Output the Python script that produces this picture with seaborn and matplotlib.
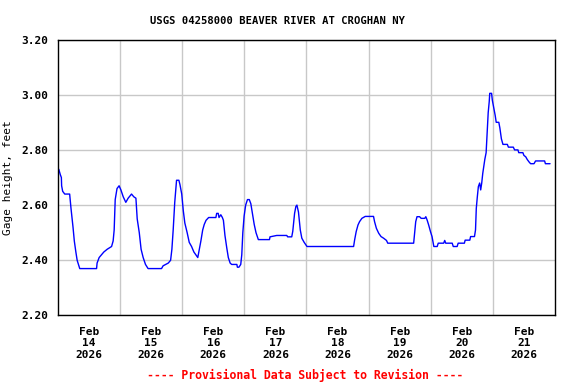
import pandas as pd
import seaborn as sns
import matplotlib.pyplot as plt
import matplotlib.dates as mdates

# hours after 2026-02-14 00:00 and gage height (ft)
hours = [0.3, 0.9, 1.3, 1.4, 1.8, 2.6, 4.5, 5.0, 5.8, 6.3, 6.9, 7.4, 8.4, 14.9,
         15.1, 15.9, 16.8, 17.7, 19.0, 20.7, 21.3, 21.7, 22.1, 22.8, 23.6, 24.3,
         25.2, 26.2, 27.1, 28.4, 29.3, 30.1, 30.6, 31.4, 32.1, 32.9, 33.8, 34.8,
         40.0, 40.6, 42.6, 43.5, 44.0, 44.5, 45.1, 45.8, 46.7, 47.1, 47.8, 48.4,
         49.0, 49.9, 50.7, 51.6, 52.5, 53.6, 54.0, 54.6, 55.2, 55.9, 56.5, 57.2,
         58.2, 61.0, 61.3, 61.9, 62.2, 62.9, 63.5, 63.9, 64.5, 65.2, 65.8, 66.5,
         67.1, 69.1, 69.3, 69.9, 70.6, 71.0, 71.4, 71.9, 72.5, 73.2, 73.9, 74.5,
         75.1, 75.8, 76.5, 77.4, 81.7, 81.9, 84.5, 88.4, 88.7, 90.3, 90.7, 91.4,
         91.9, 92.3, 92.9, 93.6, 94.2, 95.1, 96.2, 97.4, 114.2, 114.6, 115.2,
         115.9, 116.5, 117.4, 118.7, 121.9, 122.3, 123.0, 123.9, 124.8, 125.8,
         126.9, 127.4, 137.4, 137.7, 138.2, 138.7, 139.7, 140.3, 141.7, 142.1,
         142.6, 143.2, 143.9, 144.5, 145.2, 146.5, 146.9, 149.0, 149.4, 149.8,
         152.3, 152.7, 154.2, 154.6, 157.0, 157.3, 159.1, 159.4, 160.9, 161.3,
         161.6, 162.0, 162.4, 162.9, 163.3, 163.7, 164.1, 164.5, 164.9, 165.4,
         165.8, 166.2, 166.6, 166.8, 167.5, 167.8, 168.4, 168.9, 169.3, 170.3,
         170.7, 171.3, 171.9, 173.6, 174.0, 175.9, 176.4, 177.7, 178.0, 179.6,
         180.0, 180.7, 181.3, 182.1, 182.6, 183.9, 184.5, 188.0, 188.3, 190.1]
gage = [2.73, 2.71, 2.70, 2.67, 2.65, 2.64, 2.64, 2.59, 2.52, 2.47, 2.43, 2.40,
        2.37, 2.37, 2.39, 2.41, 2.42, 2.43, 2.44, 2.45, 2.47, 2.51, 2.62, 2.66,
        2.67, 2.655, 2.63, 2.61, 2.625, 2.64, 2.63, 2.625, 2.55, 2.50, 2.44,
        2.41, 2.385, 2.37, 2.37, 2.38, 2.39, 2.40, 2.44, 2.51, 2.61, 2.69, 2.69,
        2.675, 2.64, 2.58, 2.535, 2.50, 2.465, 2.45, 2.43, 2.415, 2.41, 2.44,
        2.47, 2.51, 2.53, 2.545, 2.555, 2.555, 2.57, 2.57, 2.555, 2.565, 2.555,
        2.545, 2.49, 2.445, 2.41, 2.39, 2.385, 2.385, 2.375, 2.375, 2.385, 2.42,
        2.50, 2.56, 2.60, 2.62, 2.62, 2.605, 2.57, 2.53, 2.50, 2.475, 2.475,
        2.485, 2.49, 2.49, 2.485, 2.485, 2.505, 2.57, 2.595, 2.60, 2.575, 2.51,
        2.48, 2.465, 2.45, 2.45, 2.45, 2.474, 2.504, 2.528, 2.54, 2.552, 2.559,
        2.559, 2.54, 2.516, 2.498, 2.486, 2.48, 2.472, 2.462, 2.462, 2.49, 2.54,
        2.558, 2.558, 2.552, 2.552, 2.558, 2.546, 2.528, 2.504, 2.486, 2.45,
        2.45, 2.462, 2.462, 2.472, 2.462, 2.462, 2.45, 2.45, 2.462, 2.462, 2.473,
        2.473, 2.486, 2.486, 2.51, 2.588, 2.63, 2.667, 2.68, 2.655, 2.68, 2.715,
        2.74, 2.766, 2.79, 2.86, 2.935, 2.975, 3.005, 3.005, 2.98, 2.95, 2.925,
        2.90, 2.90, 2.88, 2.84, 2.82, 2.82, 2.81, 2.81, 2.80, 2.80, 2.79, 2.79,
        2.78, 2.775, 2.765, 2.755, 2.75, 2.75, 2.76, 2.76, 2.75, 2.75]

start = pd.Timestamp("2026-02-14")
times = start + pd.to_timedelta(hours, unit="h")
df = pd.DataFrame({"time": times, "gage": gage})

sns.set_style("white")
plt.rcParams['font.family'] = ['DejaVu Sans Mono', 'DejaVu Sans']
plt.rcParams['font.weight'] = 'bold'
plt.rcParams['font.size'] = 8
plt.rcParams['text.color'] = 'black'
plt.rcParams['axes.labelcolor'] = 'black'
plt.rcParams['xtick.color'] = 'black'
plt.rcParams['ytick.color'] = 'black'

fig = plt.figure(figsize=(5.76, 3.84), dpi=100)
ax = fig.add_axes([0.1007, 0.1784, 0.8628, 0.7187])

sns.lineplot(data=df, x="time", y="gage", ax=ax, color="#0000ff", lw=1.0)

ax.set_xlim(start, start + pd.Timedelta(days=8))
ax.set_ylim(2.20, 3.20)
ax.set_yticks([2.20, 2.40, 2.60, 2.80, 3.00, 3.20])
ax.set_yticklabels(["%.2f" % v for v in ax.get_yticks()])

midnights = [start + pd.Timedelta(days=d) for d in range(1, 8)]
noons = [start + pd.Timedelta(days=d, hours=12) for d in range(8)]
ax.set_xticks(midnights)
ax.set_xticklabels([])
ax.set_xticks(noons, minor=True)
ax.set_xticklabels([t.strftime("%b\n%d\n%Y") for t in noons], minor=True,
                   linespacing=1.2)
ax.tick_params(axis="x", which="both", length=0, pad=8)
ax.tick_params(axis="y", length=0, pad=7)

ax.grid(True, which="major", color="#c8c8c8", lw=1.0)
for s in ax.spines.values():
    s.set_color("black")
    s.set_linewidth(1.0)

ax.set_xlabel("")
ax.set_ylabel("Gage height, feet", labelpad=6)

fig.text(277/576, 1 - 21/384, "USGS 04258000 BEAVER RIVER AT CROGHAN NY",
         ha="center", va="center", fontsize=7.6, weight="bold")
fig.text(305/576, 1 - 375/384, "---- Provisional Data Subject to Revision ----",
         ha="center", va="center", fontsize=8.3, weight="bold", color="red")

fig.savefig("out.png", dpi=100)
